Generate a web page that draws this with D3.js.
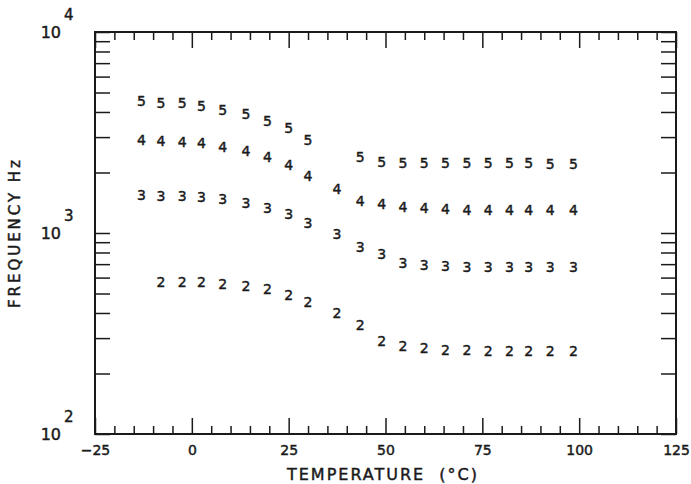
<!DOCTYPE html>
<html lang="en">
<head>
<meta charset="UTF-8">
<title>Frequency vs temperature</title>
<style>
    body { margin: 0; background: #fff; }
    svg text { font-family: "DejaVu Sans", sans-serif; fill: #1a1a1a; stroke: #1a1a1a; stroke-width: 0.45px; }
    .axis path { display: none; }
    .axis line { stroke: #1a1a1a; stroke-width: 1.5; }
</style>
</head>
<body>
<div id="chart"></div>
<script src="https://cdnjs.cloudflare.com/ajax/libs/d3/7.8.5/d3.min.js"></script>
<script>

// temperatures (deg C) where the markers sit
var temps = [-13, -8, -2.5, 2.5, 8, 14, 19.5, 25, 30, 37.5, 43.5, 49, 54.5, 60, 65.5, 71, 76.5, 82, 87, 92.5, 98.5];

// frequencies (Hz) per curve, null = no marker at that temperature
var freq5 = [4550, 4450, 4420, 4290, 4090, 3900, 3620, 3320, 2900, null, 2380, 2250, 2220, 2220, 2220, 2220, 2220, 2220, 2220, 2210, 2200];
var freq4 = [2900, 2880, 2850, 2800, 2690, 2570, 2400, 2180, 1930, 1655, 1450, 1395, 1340, 1325, 1315, 1300, 1300, 1300, 1300, 1300, 1300];
var freq3 = [1545, 1530, 1530, 1505, 1475, 1415, 1335, 1245, 1125, 988, 850, 787, 707, 693, 686, 680, 678, 676, 675, 675, 675];
var freq2 = [null, 572, 572, 569, 558, 545, 525, 492, 455, 398, 349, 291, 274, 267, 262, 262, 260, 260, 260, 260, 260];

var seriesLabels = ['5', '4', '3', '2'];
var seriesValues = [freq5, freq4, freq3, freq2];

var xTicksMajor = [-25, 0, 25, 50, 75, 100, 125];
var yDecades = [100, 1000, 10000];
var yExponents = ['2', '3', '4'];

var width = 691, height = 484;
var margin = { top: 32, right: 15, bottom: 50, left: 95 };

var svg = d3.select('#chart').append('svg')
    .attr('width', width)
    .attr('height', height);

var x = d3.scaleLinear().domain([-25, 125]).range([margin.left, width - margin.right]);
var y = d3.scaleLog().domain([100, 10000]).range([height - margin.bottom, margin.top]);

var xMinor = d3.range(-25, 126, 5).filter(function (d) { return d % 25 !== 0; });
var yMinor = [];
[100, 1000].forEach(function (dec) {
    for (var k = 2; k <= 9; k++) yMinor.push(dec * k);
});
var yAll = yMinor.concat(yDecades);

// bottom axis
svg.append('g').attr('class', 'axis')
    .attr('transform', 'translate(0,' + y.range()[0] + ')')
    .call(d3.axisBottom(x).tickValues(xMinor).tickSize(-8).tickFormat(''));
var bottom = svg.append('g').attr('class', 'axis')
    .attr('transform', 'translate(0,' + y.range()[0] + ')')
    .call(d3.axisBottom(x).tickValues(xTicksMajor).tickSize(-16).tickPadding(11).tickFormat(d3.format('d')));
bottom.selectAll('text')
    .style('font-size', '14px')
    .style('fill', '#1a1a1a')
    .attr('font-family', null);

// top axis
svg.append('g').attr('class', 'axis')
    .attr('transform', 'translate(0,' + y.range()[1] + ')')
    .call(d3.axisTop(x).tickValues(xMinor).tickSize(-8).tickFormat(''));
svg.append('g').attr('class', 'axis')
    .attr('transform', 'translate(0,' + y.range()[1] + ')')
    .call(d3.axisTop(x).tickValues(xTicksMajor).tickSize(-16).tickFormat(''));

// left / right axes
svg.append('g').attr('class', 'axis')
    .attr('transform', 'translate(' + x.range()[0] + ',0)')
    .call(d3.axisLeft(y).tickValues(yAll).tickSize(-15).tickFormat(''));
svg.append('g').attr('class', 'axis')
    .attr('transform', 'translate(' + x.range()[1] + ',0)')
    .call(d3.axisRight(y).tickValues(yAll).tickSize(-15).tickFormat(''));

// frame
svg.append('rect')
    .attr('x', x.range()[0])
    .attr('y', y.range()[1])
    .attr('width', x.range()[1] - x.range()[0])
    .attr('height', y.range()[0] - y.range()[1])
    .attr('fill', 'none')
    .attr('stroke', '#1a1a1a')
    .attr('stroke-width', 2);

// decade labels 10^n
yDecades.forEach(function (d, i) {
    svg.append('text')
        .attr('x', 61).attr('y', y(d) + 6)
        .attr('text-anchor', 'end')
        .style('font-size', '16px')
        .text('10');
    svg.append('text')
        .attr('x', 64).attr('y', y(d) - 12)
        .style('font-size', '15px')
        .text(yExponents[i]);
});

// axis titles
svg.append('text')
    .attr('x', 382).attr('y', 480)
    .attr('text-anchor', 'middle')
    .attr('textLength', 190)
    .style('font-size', '16px')
    .style('white-space', 'pre')
    .text('TEMPERATURE  (°C)');

svg.append('text')
    .attr('transform', 'translate(20,234) rotate(-90)')
    .attr('text-anchor', 'middle')
    .attr('textLength', 148)
    .style('font-size', '15px')
    .text('FREQUENCY Hz');

// numbered markers
seriesValues.forEach(function (vals, s) {
    var pts = temps.map(function (t, i) { return { t: t, f: vals[i] }; })
        .filter(function (p) { return p.f != null; });
    svg.append('g').selectAll('text')
        .data(pts)
        .join('text')
        .attr('x', function (p) { return x(p.t); })
        .attr('y', function (p) { return y(p.f); })
        .attr('dy', '0.36em')
        .attr('text-anchor', 'middle')
        .style('font-size', '14px')
        .text(seriesLabels[s]);
});
</script>
</body>
</html>
